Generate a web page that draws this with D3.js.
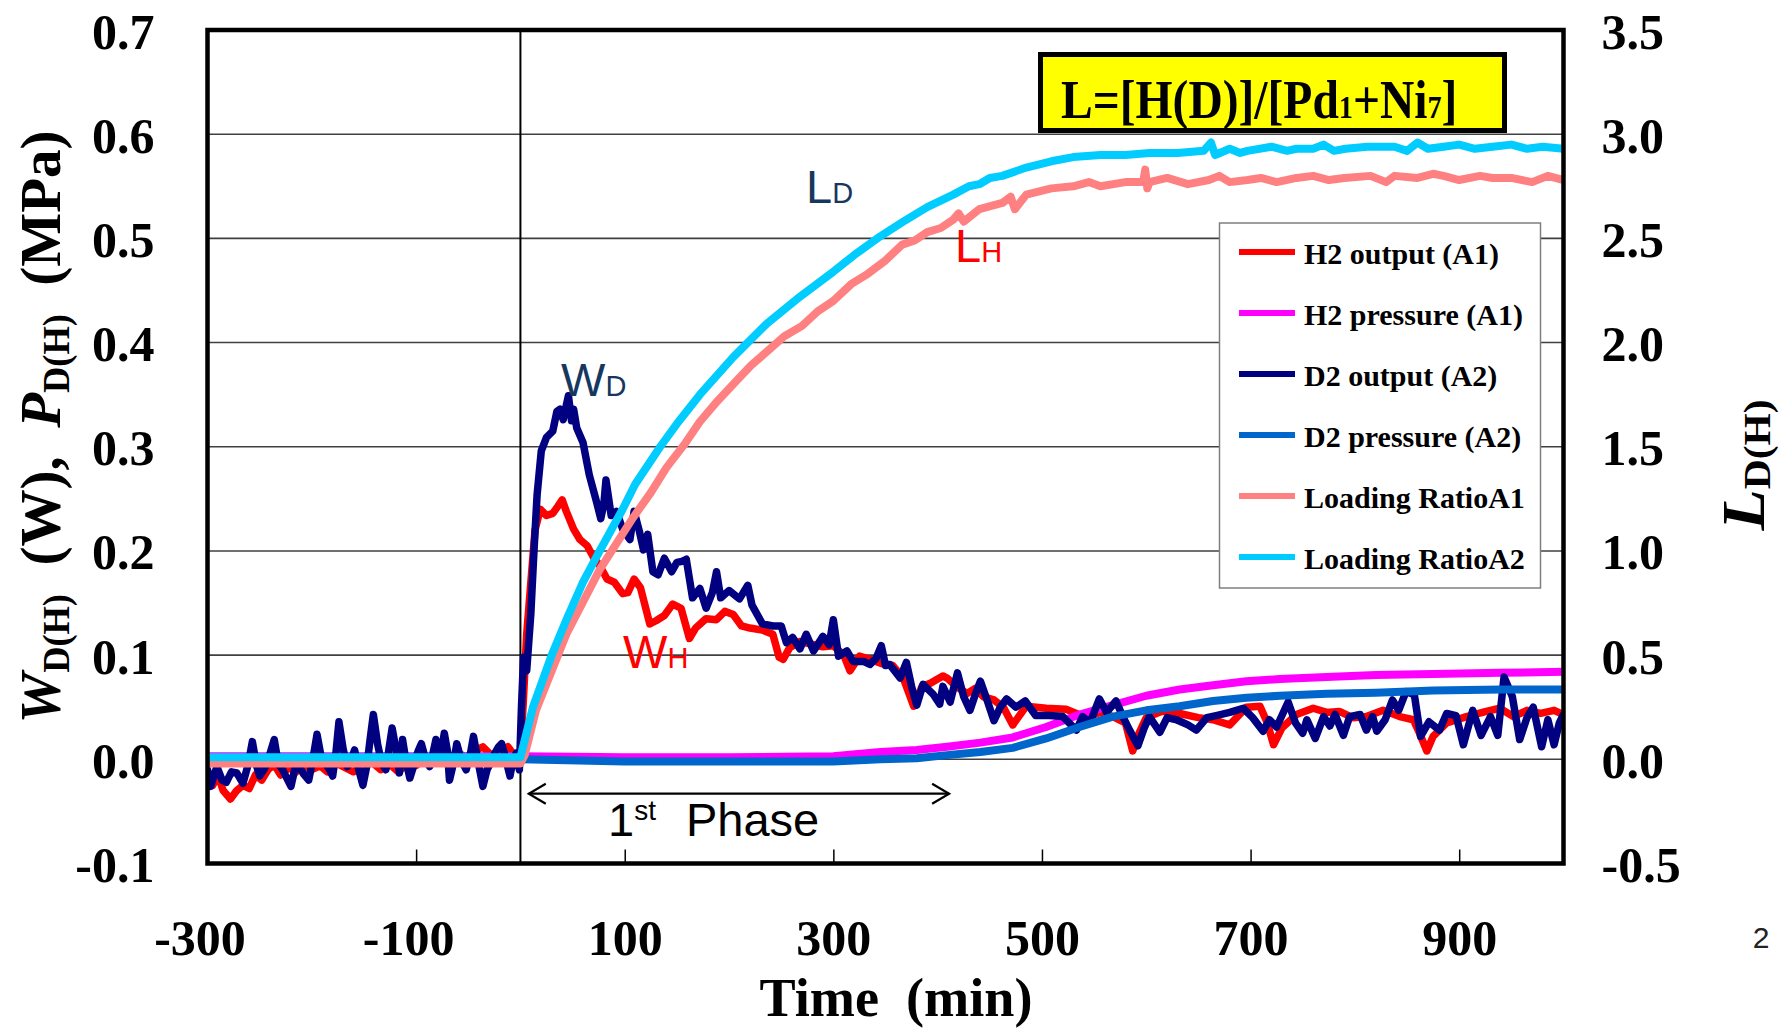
<!DOCTYPE html>
<html><head><meta charset="utf-8">
<script src="https://cdn.jsdelivr.net/npm/d3@7"></script>
<style>
html,body{margin:0;padding:0;background:#fff;}
svg{display:block;}
</style></head>
<body>
<svg id="c" width="1787" height="1030"></svg>
<script>
// ---------------- data ----------------
const xTicks = [-300, -100, 100, 300, 500, 700, 900];
const leftTicks = [-0.1, 0.0, 0.1, 0.2, 0.3, 0.4, 0.5, 0.6, 0.7];
const rightTicks = [-0.5, 0.0, 0.5, 1.0, 1.5, 2.0, 2.5, 3.0, 3.5];
const seriesNames = ["H2 output (A1)", "H2 pressure (A1)", "D2 output (A2)", "D2 pressure (A2)", "Loading RatioA1", "Loading RatioA2"];

// [time (min), W (W)]
const h2Output = [[-300,-0.02],[-295,-0.025],[-290,-0.015],[-285,-0.03],[-278,-0.038],[-272,-0.03],[-266,-0.025],[-260,-0.028],[-254,-0.015],[-248,-0.02],[-242,-0.01],[-236,-0.005],[-230,-0.015],[-222,-0.008],[-215,-0.012],[-208,-0.005],[-200,-0.01],[-192,-0.006],[-185,-0.012],[-176,-0.004],[-168,-0.008],[-160,-0.012],[-150,-0.006],[-142,-0.003],[-134,-0.01],[-125,-0.005],[-117,-0.012],[-108,-0.004],[-100,-0.006],[-92,0],[-85,-0.004],[-76,0.004],[-68,0.002],[-60,0.006],[-52,0.002],[-44,0.008],[-36,0.012],[-28,0.004],[-20,0.006],[-12,0.012],[-6,0.004],[0,0.005],
[3,0.06],[6,0.12],[10,0.17],[14,0.22],[19,0.24],[25,0.234],[31,0.236],[36,0.243],[40,0.249],[44,0.238],[51,0.221],[57,0.211],[64,0.205],[70,0.194],[76,0.186],[83,0.173],[90,0.17],[98,0.159],[103,0.16],[109,0.173],[115,0.165],[124,0.13],[130,0.133],[138,0.138],[146,0.149],[154,0.145],[162,0.116],[168,0.126],[178,0.135],[188,0.134],[196,0.142],[204,0.139],[212,0.128],[220,0.126],[232,0.124],[242,0.12],[248,0.098],[252,0.096],[258,0.107],[268,0.113],[281,0.11],[290,0.108],[300,0.109],[310,0.1],[316,0.085],[325,0.099],[335,0.096],[346,0.092],[357,0.09],[367,0.078],[377,0.051],[385,0.07],[393,0.073],[405,0.08],[409,0.078],[418,0.07],[428,0.063],[436,0.068],[444,0.06],[454,0.057],[463,0.05],[472,0.033],[485,0.051],[504,0.049],[523,0.048],[543,0.04],[555,0.045],[568,0.041],[580,0.035],[587,0.008],[593,0.025],[600,0.04],[615,0.046],[632,0.044],[650,0.04],[664,0.038],[680,0.033],[696,0.05],[709,0.051],[716,0.035],[722,0.014],[730,0.03],[744,0.043],[760,0.049],[773,0.045],[785,0.046],[798,0.04],[811,0.041],[827,0.047],[843,0.041],[856,0.038],[862,0.025],[869,0.008],[875,0.022],[888,0.035],[907,0.041],[926,0.046],[939,0.049],[952,0.041],[965,0.047],[978,0.044],[991,0.047],[1000,0.043]];

const d2Output = [[-300,-0.01],[-297,-0.026],[-291,-0.007],[-286,-0.02],[-282,-0.022],[-277,-0.012],[-272,-0.013],[-266,-0.023],[-261,-0.005],[-257,0.017],[-253,-0.006],[-250,-0.016],[-246,-0.01],[-243,-0.004],[-236,0.019],[-232,-0.005],[-228,-0.01],[-224,-0.018],[-220,-0.026],[-216,-0.008],[-212,-0.007],[-208,-0.014],[-203,-0.02],[-199,0.0],[-195,0.024],[-191,0.002],[-187,-0.004],[-183,-0.01],[-180,-0.016],[-177,0.005],[-174,0.036],[-170,0.01],[-166,-0.007],[-162,0.0],[-159,0.009],[-155,-0.01],[-151,-0.025],[-147,-0.005],[-144,0.02],[-141,0.043],[-137,0.015],[-133,-0.004],[-129,-0.01],[-126,0.01],[-123,0.03],[-119,0.008],[-116,-0.013],[-113,0.019],[-110,0.0],[-106,-0.018],[-102,-0.005],[-98,0.008],[-95,0.015],[-91,0.0],[-87,-0.007],[-84,0.005],[-81,0.019],[-77,0.0],[-73,0.025],[-70,0.008],[-68,-0.02],[-64,-0.003],[-61,0.015],[-57,0.0],[-52,-0.01],[-48,0.005],[-45,0.022],[-41,0.0],[-36,-0.026],[-32,-0.01],[-29,-0.004],[-25,0.005],[-21,0.012],[-18,0.015],[-14,0.0],[-10,-0.016],[-7,0.0],[-4,0.006],[-1,-0.01],
[1,0.05],[3,0.098],[6,0.085],[10,0.14],[13,0.2],[16,0.254],[20,0.296],[25,0.309],[31,0.315],[35,0.334],[38,0.336],[41,0.326],[46,0.349],[49,0.325],[51,0.336],[54,0.318],[60,0.304],[66,0.273],[73,0.247],[77,0.231],[80,0.245],[82,0.268],[87,0.234],[92,0.238],[98,0.221],[105,0.211],[109,0.238],[114,0.219],[118,0.201],[122,0.216],[127,0.18],[132,0.177],[138,0.193],[145,0.18],[150,0.189],[155,0.19],[159,0.192],[165,0.155],[172,0.164],[178,0.145],[184,0.16],[188,0.18],[192,0.155],[200,0.162],[210,0.154],[218,0.167],[222,0.148],[232,0.13],[242,0.128],[250,0.128],[255,0.112],[261,0.117],[268,0.106],[274,0.12],[281,0.104],[290,0.118],[296,0.11],[300,0.134],[305,0.099],[313,0.104],[319,0.094],[329,0.094],[335,0.091],[341,0.097],[346,0.109],[350,0.09],[354,0.091],[364,0.078],[370,0.093],[375,0.07],[380,0.052],[386,0.072],[396,0.062],[402,0.053],[405,0.07],[412,0.055],[419,0.083],[425,0.06],[431,0.047],[436,0.062],[441,0.075],[448,0.055],[454,0.037],[460,0.05],[466,0.058],[475,0.05],[484,0.056],[494,0.042],[507,0.042],[520,0.041],[533,0.028],[539,0.041],[546,0.035],[555,0.058],[562,0.045],[571,0.056],[578,0.04],[584,0.028],[592,0.013],[598,0.03],[603,0.041],[613,0.026],[620,0.04],[629,0.038],[640,0.033],[648,0.028],[658,0.04],[667,0.042],[680,0.045],[693,0.049],[702,0.04],[712,0.027],[718,0.038],[725,0.031],[736,0.055],[743,0.035],[750,0.025],[754,0.038],[762,0.02],[770,0.041],[776,0.032],[781,0.043],[789,0.023],[795,0.041],[805,0.043],[811,0.028],[817,0.041],[821,0.027],[829,0.038],[836,0.057],[842,0.047],[849,0.065],[857,0.062],[863,0.022],[871,0.036],[881,0.028],[888,0.044],[897,0.042],[904,0.014],[913,0.047],[921,0.023],[930,0.041],[937,0.023],[943,0.079],[951,0.06],[958,0.019],[965,0.04],[971,0.05],[979,0.012],[985,0.038],[991,0.014],[996,0.035],[1000,0.043]];

// [time (min), P (MPa)]
const h2Pressure = [[-300,0.003],[-200,0.003],[-100,0.003],[0,0.003],[100,0.002],[200,0.002],[300,0.003],[345,0.007],[380,0.009],[409,0.012],[441,0.016],[472,0.021],[504,0.031],[536,0.043],[568,0.052],[600,0.061],[632,0.067],[664,0.071],[696,0.075],[728,0.077],[773,0.079],[820,0.081],[875,0.082],[940,0.083],[1000,0.084]];
const d2Pressure = [[-300,0.0],[-200,0.0],[-100,0.0],[0,0.0],[100,-0.002],[200,-0.002],[300,-0.002],[345,0.0],[380,0.001],[409,0.004],[441,0.007],[472,0.011],[504,0.02],[536,0.031],[568,0.041],[600,0.047],[632,0.051],[664,0.056],[696,0.059],[728,0.061],[773,0.063],[820,0.064],[875,0.066],[940,0.067],[1000,0.067]];

// [time (min), L]
const loadA1 = [[-300,-0.02],[-200,-0.02],[-100,-0.02],[0,-0.02],[4,0.02],[15,0.237],[44,0.6],[76,0.91],[108,1.16],[125,1.28],[140,1.4],[157,1.51],[172,1.62],[189,1.72],[204,1.8],[221,1.89],[253,2.03],[270,2.08],[285,2.15],[300,2.2],[317,2.28],[333,2.33],[349,2.39],[366,2.47],[378,2.49],[390,2.53],[403,2.55],[415,2.59],[420,2.62],[425,2.58],[440,2.64],[462,2.67],[470,2.7],[474,2.64],[485,2.71],[509,2.74],[530,2.75],[545,2.77],[556,2.75],[580,2.77],[597,2.77],[599,2.83],[601,2.74],[603,2.77],[620,2.79],[640,2.76],[660,2.78],[670,2.8],[680,2.77],[697,2.78],[710,2.79],[725,2.77],[744,2.79],[760,2.8],[775,2.78],[790,2.79],[815,2.8],[830,2.77],[838,2.8],[860,2.79],[875,2.81],[885,2.8],[900,2.78],[920,2.8],[932,2.79],[950,2.79],[970,2.77],[985,2.8],[1000,2.78]];
const loadA2 = [[-300,0.01],[-200,0.01],[-100,0.01],[0,0.01],[12,0.25],[30,0.5],[44,0.669],[60,0.85],[76,1.0],[98,1.2],[110,1.32],[134,1.5],[150,1.61],[172,1.75],[204,1.93],[236,2.09],[268,2.22],[300,2.34],[320,2.42],[345,2.51],[367,2.58],[390,2.65],[415,2.71],[430,2.75],[440,2.76],[450,2.79],[462,2.8],[485,2.84],[509,2.87],[530,2.89],[556,2.9],[580,2.9],[603,2.91],[630,2.91],[655,2.92],[662,2.96],[666,2.9],[680,2.93],[690,2.91],[697,2.92],[720,2.94],[735,2.92],[744,2.93],[760,2.93],[770,2.95],[780,2.92],[791,2.93],[812,2.94],[838,2.94],[850,2.92],[860,2.96],[870,2.93],[885,2.94],[900,2.95],[915,2.93],[932,2.94],[950,2.95],[965,2.93],[980,2.94],[1000,2.93]];

// ---------------- layout / style ----------------
const M = {left: 207.5, right: 1563.5, top: 30, bottom: 863.5};
const colors = ["#FF0000", "#FF00FF", "#000080", "#0066CC", "#FF8080", "#00CCFF"];
const serif = "'Liberation Serif','Times New Roman',serif";
const sans = "'Liberation Sans',Arial,sans-serif";
const hyphen = f => d => f(d).replace("\u2212", "-");

const svg = d3.select("#c");
const x = d3.scaleLinear().domain([-300, 1000]).range([M.left, M.right]);
const yL = d3.scaleLinear().domain([-0.1, 0.7]).range([M.bottom, M.top]);
const yR = d3.scaleLinear().domain([-0.5, 3.5]).range([M.bottom, M.top]);

// gridlines
svg.append("g").selectAll("line").data(leftTicks.filter(d => d > -0.1 && d < 0.7)).join("line")
  .attr("x1", M.left).attr("x2", M.right)
  .attr("y1", d => yL(d)).attr("y2", d => yL(d))
  .attr("stroke", "#404040").attr("stroke-width", 1.6);

// vertical line at t = 0
svg.append("line").attr("x1", x(0)).attr("x2", x(0)).attr("y1", M.top).attr("y2", M.bottom)
  .attr("stroke", "#000").attr("stroke-width", 2);

// x axis (inward ticks + labels)
const xAxis = svg.append("g").attr("transform", `translate(0,${M.bottom})`)
  .call(d3.axisBottom(x).tickValues(xTicks).tickSizeInner(-14).tickSizeOuter(0).tickPadding(0).tickFormat(hyphen(d3.format("d"))));
xAxis.select(".domain").remove();
xAxis.selectAll(".tick line").attr("stroke", "#000").attr("stroke-width", 1.5);
xAxis.selectAll(".tick text").attr("y", 91).attr("dy", null)
  .attr("x", d => d < 0 ? -8 : 0)
  .attr("font-family", serif).attr("font-weight", "bold").attr("font-size", 50).attr("fill", "#000");

// left axis labels
const lAxis = svg.append("g").attr("transform", `translate(${M.left},0)`)
  .call(d3.axisLeft(yL).tickValues(leftTicks).tickSize(0).tickPadding(53).tickFormat(hyphen(d3.format(".1f"))));
lAxis.select(".domain").remove();
lAxis.selectAll(".tick text").attr("dy", "0.36em")
  .attr("font-family", serif).attr("font-weight", "bold").attr("font-size", 50).attr("fill", "#000");

// right axis labels
const rAxis = svg.append("g").attr("transform", `translate(${M.right},0)`)
  .call(d3.axisRight(yR).tickValues(rightTicks).tickSize(0).tickPadding(38).tickFormat(hyphen(d3.format(".1f"))));
rAxis.select(".domain").remove();
rAxis.selectAll(".tick text").attr("dy", "0.36em")
  .attr("font-family", serif).attr("font-weight", "bold").attr("font-size", 50).attr("fill", "#000");

// series
svg.append("clipPath").attr("id", "clip").append("rect")
  .attr("x", M.left).attr("y", M.top).attr("width", M.right - M.left).attr("height", M.bottom - M.top);
const g = svg.append("g").attr("clip-path", "url(#clip)");
const lineL = d3.line().x(d => x(d[0])).y(d => yL(d[1]));
const lineR = d3.line().x(d => x(d[0])).y(d => yR(d[1]));
const series = [
  {data: h2Output, gen: lineL, w: 7.5},
  {data: h2Pressure, gen: lineL, w: 8},
  {data: d2Output, gen: lineL, w: 7.5},
  {data: d2Pressure, gen: lineL, w: 8},
  {data: loadA1, gen: lineR, w: 8},
  {data: loadA2, gen: lineR, w: 8}
];
series.forEach((s, i) => {
  g.append("path").attr("d", s.gen(s.data)).attr("fill", "none")
    .attr("stroke", colors[i]).attr("stroke-width", s.w)
    .attr("stroke-linejoin", "round").attr("stroke-linecap", "round");
});

// plot border
svg.append("rect").attr("x", M.left).attr("y", M.top)
  .attr("width", M.right - M.left).attr("height", M.bottom - M.top)
  .attr("fill", "none").attr("stroke", "#000").attr("stroke-width", 4.5);

// legend
const lg = svg.append("g");
lg.append("rect").attr("x", 1219.5).attr("y", 223).attr("width", 321).attr("height", 365)
  .attr("fill", "#fff").attr("stroke", "#7f7f7f").attr("stroke-width", 1.5);
seriesNames.forEach((name, i) => {
  const yy = 252 + i * 61;
  lg.append("line").attr("x1", 1239).attr("x2", 1295).attr("y1", yy).attr("y2", yy)
    .attr("stroke", colors[i]).attr("stroke-width", 6);
  lg.append("text").attr("x", 1304).attr("y", yy + 12).text(name)
    .attr("font-family", serif).attr("font-weight", "bold").attr("font-size", 30).attr("fill", "#000");
});

// formula box
svg.append("rect").attr("x", 1040.5).attr("y", 54.5).attr("width", 464).attr("height", 76)
  .attr("fill", "#FFFF00").attr("stroke", "#000").attr("stroke-width", 5);
const ft = svg.append("text").attr("transform", "translate(1061,118) scale(0.88,1)")
  .attr("font-family", serif).attr("font-weight", "bold").attr("font-size", 54).attr("fill", "#000");
ft.append("tspan").text("L=[H(D)]/[Pd");
ft.append("tspan").attr("font-size", 32).text("1");
ft.append("tspan").text("+Ni");
ft.append("tspan").attr("font-size", 32).text("7");
ft.append("tspan").text("]");

// annotations
function label(xx, yy, main, sub, color) {
  const t = svg.append("text").attr("x", xx).attr("y", yy)
    .attr("font-family", sans).attr("font-size", 47).attr("fill", color);
  t.append("tspan").text(main);
  t.append("tspan").attr("font-size", 29).text(sub);
}
label(806, 203, "L", "D", "#17375E");
label(955, 262, "L", "H", "#FF0000");
label(561, 396, "W", "D", "#17375E");
label(623, 668, "W", "H", "#FF0000");

// 1st phase arrow
const phaseStart = 8, phaseEnd = 411, phaseLevel = -0.033;
const ay = yL(phaseLevel), ax1 = x(phaseStart), ax2 = x(phaseEnd);
const ag = svg.append("g").attr("stroke", "#000").attr("stroke-width", 2.2).attr("fill", "none");
ag.append("line").attr("x1", ax1).attr("x2", ax2).attr("y1", ay).attr("y2", ay);
ag.append("path").attr("d", `M${ax1 + 17},${ay - 10} L${ax1},${ay} L${ax1 + 17},${ay + 10}`);
ag.append("path").attr("d", `M${ax2 - 17},${ay - 10} L${ax2},${ay} L${ax2 - 17},${ay + 10}`);
const pt = svg.append("text").attr("x", 608).attr("y", 836)
  .attr("font-family", sans).attr("font-size", 47).attr("fill", "#000");
pt.append("tspan").text("1");
pt.append("tspan").attr("font-size", 28).attr("dy", -16).text("st");
pt.append("tspan").attr("dx", 30).attr("dy", 16).text("Phase");

// axis titles
svg.append("text").attr("x", 896).attr("y", 1016).attr("text-anchor", "middle")
  .attr("font-family", serif).attr("font-weight", "bold").attr("font-size", 54)
  .attr("textLength", 273).attr("lengthAdjust", "spacingAndGlyphs")
  .style("white-space", "pre").text("Time  (min)");

const lt = svg.append("text").attr("transform", "translate(60,427) rotate(-90)")
  .attr("text-anchor", "middle").attr("font-family", serif).attr("font-weight", "bold")
  .attr("font-size", 58).attr("textLength", 593).attr("lengthAdjust", "spacingAndGlyphs")
  .style("white-space", "pre");
lt.append("tspan").attr("font-style", "italic").text("W");
lt.append("tspan").attr("font-size", 37).attr("dy", 9).text("D(H)");
lt.append("tspan").attr("dy", -9).text("  (W),  ");
lt.append("tspan").attr("font-style", "italic").text("P");
lt.append("tspan").attr("font-size", 37).attr("dy", 9).text("D(H)");
lt.append("tspan").attr("dy", -9).text("  (MPa)");

const rt = svg.append("text").attr("transform", "translate(1764,465) rotate(-90)")
  .attr("text-anchor", "middle").attr("font-family", serif).attr("font-weight", "bold")
  .attr("font-size", 62).attr("textLength", 131).attr("lengthAdjust", "spacingAndGlyphs");
rt.append("tspan").attr("font-style", "italic").text("L");
rt.append("tspan").attr("font-size", 38).attr("dy", 6).text("D(H)");

// page number
svg.append("text").attr("x", 1761).attr("y", 948).attr("text-anchor", "middle")
  .attr("font-family", sans).attr("font-size", 30).attr("fill", "#222").text("2");
</script>
</body></html>
